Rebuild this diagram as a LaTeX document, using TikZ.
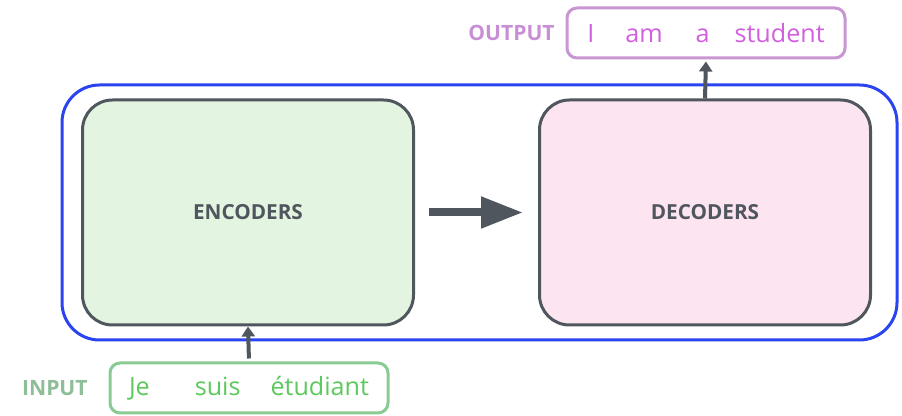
\documentclass[tikz,border=0pt]{standalone}
\usepackage{fontspec}
\setmainfont{Open Sans}
\usetikzlibrary{arrows.meta}

\definecolor{outerblue}{HTML}{2B44F2}
\definecolor{boxgray}{HTML}{50565E}
\definecolor{encfill}{HTML}{E3F5E1}
\definecolor{decfill}{HTML}{FDE4F1}
\definecolor{outline}{HTML}{C796D3}
\definecolor{outtext}{HTML}{D25FDF}
\definecolor{outlabel}{HTML}{C98FD5}
\definecolor{inline}{HTML}{8ACB94}
\definecolor{intext}{HTML}{5CC95C}
\definecolor{inlabel}{HTML}{8DBE98}

\tikzset{
	coderbox/.style={draw=boxgray, line width=0.06cm, rounded corners=0.6cm,
		minimum width=6.62cm, minimum height=4.5cm, inner sep=0pt,
		text=boxgray, font=\fontsize{11.8}{14}\selectfont\bfseries},
	wordbox/.style={line width=0.06cm, rounded corners=0.2cm,
		minimum width=5.56cm, minimum height=1cm, inner sep=0pt,
		font=\fontsize{14.3}{17}\selectfont},
	sidelabel/.style={anchor=east, inner sep=0pt, font=\fontsize{12}{14}\selectfont\bfseries},
	smallarrow/.style={draw=boxgray, line width=0.08cm, -{Triangle[length=0.2cm, width=0.26cm]}}
}

\begin{document}
\begin{tikzpicture}
		\useasboundingbox (0,0) rectangle (18.04,8.32);
		
		\node (stack) [draw=outerblue, line width=0.06cm, rounded corners=0.75cm,
			minimum width=16.7cm, minimum height=5.1cm] at (9.59,4.07) {};
		
		\node (enc) [coderbox, fill=encfill] at (4.96,4.07) {ENCODERS};
		\node (dec) [coderbox, fill=decfill] at (14.1,4.07) {DECODERS};
		
		\node (out) [wordbox, draw=outline, text=outtext] at (14.12,7.66)
			{I\hspace{0.62cm}am\hspace{0.66cm}a\hspace{0.5cm}student};
		\node (outlbl) [sidelabel, text=outlabel] at (11.1,7.66) {OUTPUT};
		
		\node (in) [wordbox, draw=inline, text=intext] at (4.98,0.56)
			{Je\hspace{0.9cm}suis\hspace{0.6cm}étudiant};
		\node (inlbl) [sidelabel, text=inlabel] at (1.76,0.56) {INPUT};
		
		\draw [draw=boxgray, line width=0.16cm, shorten <=0.28cm, shorten >=0.3cm,
			-{Triangle[length=0.84cm, width=0.6cm]}] (enc) -- (dec);
		\draw [smallarrow, shorten >=0.04cm] (dec.north) -- (out.south);
		\draw [smallarrow, shorten <=0.06cm] (in.north) -- (enc.south);
		
\end{tikzpicture}
\end{document}
